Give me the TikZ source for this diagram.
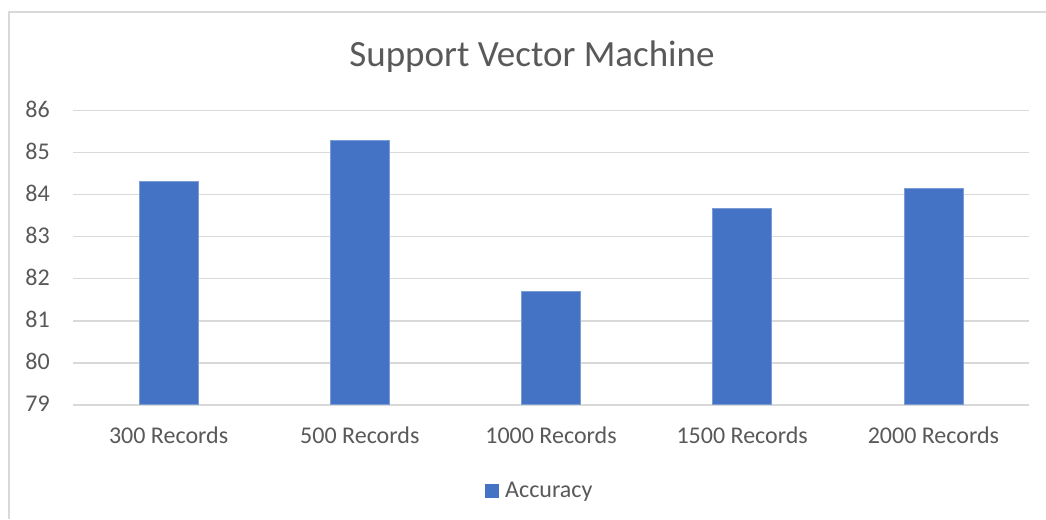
\documentclass[tikz,border=0pt]{standalone}
\usepackage{fontspec}
\setmainfont{Carlito}
\definecolor{txtgray}{HTML}{595959}
\definecolor{gridgray}{HTML}{D9D9D9}
\definecolor{barblue}{HTML}{4472C4}
\begin{document}
\begin{tikzpicture}[x=1pt,y=-1pt,
  gridline/.style={draw=gridgray,line width=1.5pt},
  framebox/.style={draw=gridgray,line width=1.5pt},
  barbox/.style={fill=barblue,draw=barblue!70!white,line width=0.6pt},
  ticklabel/.style={text=txtgray,font=\fontsize{24}{28}\selectfont,inner sep=0pt},
  titlelabel/.style={text=txtgray,font=\fontsize{37}{44}\selectfont,inner sep=0pt}]
\useasboundingbox (0,0) rectangle (1046,519);
\fill[white] (0,0) rectangle (1046,519);
% frame
\draw[framebox] (9,519) -- (9,12) -- (1046,12);
% title
\node[titlelabel,anchor=base] (title) at (532,66.7) {Support Vector Machine};
% gridlines and y labels
\foreach \v in {79,...,86}{
  \pgfmathsetmacro{\yy}{405-(\v-79)*42.1}
  \draw[gridline] (73,\yy) -- (1029,\yy);
  \node[ticklabel,anchor=base east] (yl\v) at (50,\yy+6.8) {\v};
}
% bars
\foreach \i/\val/\lab in {1/84.31/300,2/85.29/500,3/81.70/1000,4/83.68/1500,5/84.15/2000}{
  \pgfmathsetmacro{\cx}{73+191.2*(\i-0.5)}
  \pgfmathsetmacro{\top}{405-(\val-79)*42.1}
  \draw[barbox] (\cx-29.5,404.3) rectangle (\cx+29.5,\top);
  \node[ticklabel,anchor=base] (xl\i) at (\cx,443) {\lab\ Records};
}
% legend
\fill[barblue] (485,484) rectangle (499,497.7);
\node[ticklabel,anchor=base west] (legend) at (505,497) {Accuracy};
\end{tikzpicture}
\end{document}
